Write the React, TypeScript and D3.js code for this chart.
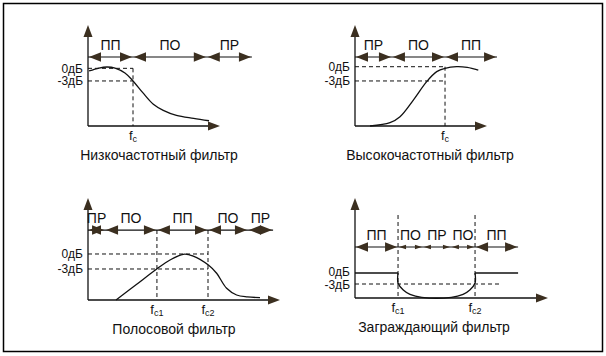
import React from 'react';
import * as d3 from 'd3';

// ---- data (normalised units: frequency 0..100 along x-axis, level 0..100 along y-axis) ----
const titles = ['Низкочастотный фильтр', 'Высокочастотный фильтр', 'Полосовой фильтр', 'Заграждающий фильтр'];
const levelLabels = ['0дБ', '-3дБ'];

const lowPassCurve: [number, number][] = [
  [0.8, 54.5], [8.3, 57.4], [14.4, 58.4], [20.5, 57.4], [28.0, 52.5], [34.1, 44.6],
  [41.5, 33.0], [49.5, 21.5], [57.0, 15.5], [67.0, 10.5], [80.0, 7.5], [91.7, 5.2],
];
const lowPassEdges = [0, 34.1, 90, 124.2];
const lowPassBands = ['ПП', 'ПО', 'ПР'];
const lowPassLevels = [57.1, 44.6];
const lowPassCutoffs = [34.1];
const lowPassCutoffLabels = ['c'];

const highPassCurve: [number, number][] = [
  [11.4, 0], [26.5, 3.3], [34.1, 9.2], [44.2, 25.7], [54.3, 43.9], [61.9, 53.8],
  [68.2, 57.1], [77.0, 58.7], [85.0, 58.0], [93.4, 55.4],
];
const highPassEdges = [0, 28, 68.2, 107.6];
const highPassBands = ['ПР', 'ПО', 'ПП'];
const highPassLevels = [58.7, 44.6];
const highPassCutoffs = [68.2];
const highPassCutoffLabels = ['c'];

const bandPassCurve: [number, number][] = [
  [14.6, 0], [25.2, 15.2], [35.8, 30.4], [42.7, 39.2], [49.6, 44.8], [54.8, 43.1],
  [62.7, 34.3], [67.0, 26.2], [72.2, 11.5], [77.4, 4.9], [83.0, 3.0], [89.6, 2.3],
];
const bandPassEdges = [0, 8.9, 35.9, 62.5, 83.3, 96.4];
const bandPassBands = ['ПР', 'ПО', 'ПП', 'ПО', 'ПР'];
const bandPassLevels = [45.1, 30.4];
const bandPassCutoffs = [35.9, 62.5];
const bandPassCutoffLabels = ['c1', 'c2'];

const bandStopNotch: [number, number][] = [
  [22.3, 25], [22.3, 15], [25.0, 8], [28.5, 3.7], [34.6, 0.7], [49.9, 0.7],
  [56.0, 3.7], [59.5, 8], [62.2, 15], [62.2, 25],
];
const bandStopPassLeft: [number, number][] = [[0, 25], [22.3, 25]];
const bandStopPassRight: [number, number][] = [[62.2, 25], [84.5, 25]];
const bandStopEdges = [0, 22.3, 35.2, 49.7, 62.2, 84.5];
const bandStopBands = ['ПП', 'ПО', 'ПР', 'ПО', 'ПП'];
const bandStopLevels = [25, 14];
const bandStopCutoffs = [22.3, 62.2];
const bandStopCutoffLabels = ['c1', 'c2'];

// ---- layout / style ----
const FONT = '"Liberation Sans", Arial, Helvetica, sans-serif';
const INK = '#111';
const HEAD = '#3b2f20';

type PanelCfg = {
  ox: number; oy: number; w: number; h: number;
  title: string; titleX: number;
  edges: number[]; bands: string[]; bandY: number; smallInner?: boolean;
  levels: number[]; cutoffs: number[]; cutoffLabels: string[];
  kind: 'lp' | 'hp' | 'bp' | 'bs';
};

const panels: PanelCfg[] = [
  { ox: 88, oy: 126, w: 132, h: 101, title: titles[0], titleX: 159, edges: lowPassEdges, bands: lowPassBands, bandY: 68.3,
    levels: lowPassLevels, cutoffs: lowPassCutoffs, cutoffLabels: lowPassCutoffLabels, kind: 'lp' },
  { ox: 355, oy: 126, w: 132, h: 101, title: titles[1], titleX: 430, edges: highPassEdges, bands: highPassBands, bandY: 68.3,
    levels: highPassLevels, cutoffs: highPassCutoffs, cutoffLabels: highPassCutoffLabels, kind: 'hp' },
  { ox: 88, oy: 300, w: 192, h: 102, title: titles[2], titleX: 174, edges: bandPassEdges, bands: bandPassBands, bandY: 68.6,
    levels: bandPassLevels, cutoffs: bandPassCutoffs, cutoffLabels: bandPassCutoffLabels, kind: 'bp' },
  { ox: 355, oy: 298, w: 193, h: 100, title: titles[3], titleX: 434, edges: bandStopEdges, bands: bandStopBands, bandY: 51,
    levels: bandStopLevels, cutoffs: bandStopCutoffs, cutoffLabels: bandStopCutoffLabels, kind: 'bs', smallInner: true },
];

function tri(x: number, y: number, dir: 'l' | 'r' | 'u', len: number, half: number) {
  if (dir === 'l') return `${x},${y} ${x + len},${y - half} ${x + len},${y + half}`;
  if (dir === 'r') return `${x},${y} ${x - len},${y - half} ${x - len},${y + half}`;
  return `${x},${y} ${x - half},${y + len} ${x + half},${y + len}`;
}

function Panel({ p }: { p: PanelCfg }) {
  const x = d3.scaleLinear().domain([0, 100]).range([p.ox, p.ox + p.w]);
  const y = d3.scaleLinear().domain([0, 100]).range([p.oy, p.oy - p.h]);
  const smooth = d3.line<[number, number]>().x(d => x(d[0])).y(d => y(d[1])).curve(d3.curveCatmullRom.alpha(0.5));
  const straight = d3.line<[number, number]>().x(d => x(d[0])).y(d => y(d[1]));
  const dash = '4,3';
  const by = y(p.bandY);
  const [l0, l3] = p.levels;
  const lastCut = p.cutoffs[p.cutoffs.length - 1];

  const dashed: JSX.Element[] = [];
  if (p.kind === 'lp' || p.kind === 'hp' || p.kind === 'bp') {
    dashed.push(<line key="h0" x1={x(0)} x2={x(lastCut)} y1={y(l0)} y2={y(l0)} />);
    dashed.push(<line key="h3" x1={x(0)} x2={x(lastCut)} y1={y(l3)} y2={y(l3)} />);
  }
  if (p.kind === 'lp' || p.kind === 'hp') {
    dashed.push(<line key="v" x1={x(p.cutoffs[0])} x2={x(p.cutoffs[0])} y1={y(l0)} y2={y(0)} />);
  }
  if (p.kind === 'bp') {
    p.cutoffs.forEach((c, i) => dashed.push(<line key={'v' + i} x1={x(c)} x2={x(c)} y1={by} y2={y(0)} />));
  }
  if (p.kind === 'bs') {
    p.cutoffs.forEach((c, i) => dashed.push(<line key={'v' + i} x1={x(c)} x2={x(c)} y1={y(83)} y2={y(0)} />));
    dashed.push(<line key="h3" x1={x(0)} x2={x(75)} y1={y(l3)} y2={y(l3)} />);
  }

  let curve: JSX.Element[] = [];
  if (p.kind === 'lp') curve = [<path key="c" d={smooth(lowPassCurve) || ''} />];
  if (p.kind === 'hp') curve = [<path key="c" d={smooth(highPassCurve) || ''} />];
  if (p.kind === 'bp') curve = [<path key="c" d={smooth(bandPassCurve) || ''} />];
  if (p.kind === 'bs') curve = [
    <path key="a" d={straight(bandStopPassLeft) || ''} />,
    <path key="b" d={smooth(bandStopNotch) || ''} />,
    <path key="c" d={straight(bandStopPassRight) || ''} />,
  ];

  // level label baselines, kept at least one text height apart
  const b1 = y(l3) + 4.5;
  const b0 = Math.min(y(l0) + 4.5, b1 - 12.5);
  const levelBase = [b0, b1];

  return (
    <g>
      {/* dashed guides */}
      <g stroke={INK} strokeWidth={1} strokeDasharray={dash} fill="none">{dashed}</g>
      {/* axes */}
      <g stroke={INK} strokeWidth={1.3}>
        <line x1={p.ox} x2={p.ox} y1={p.oy} y2={p.oy - p.h + 8} />
        <line x1={p.ox} x2={p.ox + p.w - 8} y1={p.oy} y2={p.oy} />
      </g>
      <polygon points={tri(p.ox, p.oy - p.h, 'u', 12, 4.5)} fill={HEAD} />
      <polygon points={tri(p.ox + p.w, p.oy, 'r', 12, 4.5)} fill={HEAD} />
      {/* response curve */}
      <g stroke={INK} strokeWidth={1.3} fill="none">{curve}</g>
      {/* band arrows */}
      <line x1={x(p.edges[0])} x2={x(p.edges[p.edges.length - 1])} y1={by} y2={by} stroke={INK} strokeWidth={1.2} />
      {p.bands.map((b, i) => {
        const a = x(p.edges[i]);
        const e = x(p.edges[i + 1]);
        const small = p.smallInner && i > 0 && i < p.bands.length - 1;
        const len = small ? 7 : 12;
        const half = small ? 2.3 : 4.8;
        return (
          <g key={i}>
            <polygon points={tri(a + 1, by, 'l', len, half)} fill={HEAD} />
            <polygon points={tri(e - 1, by, 'r', len, half)} fill={HEAD} />
            <text x={(a + e) / 2} y={by - 7} textAnchor="middle" fontSize={14} fill={INK} fontFamily={FONT}>{b}</text>
          </g>
        );
      })}
      {/* level labels */}
      {p.levels.map((l, i) => (
        <text key={i} x={p.ox - 5} y={levelBase[i]} textAnchor="end" fontSize={12} fill={INK} fontFamily={FONT}>{levelLabels[i]}</text>
      ))}
      {/* cutoff labels */}
      {p.cutoffs.map((c, i) => (
        <text key={i} x={x(c)} y={p.oy + 14} textAnchor="middle" fontSize={13} fill={INK} fontFamily={FONT}>
          f<tspan fontSize={9} dy={2}>{p.cutoffLabels[i]}</tspan>
        </text>
      ))}
      <text x={p.titleX} y={p.oy + 34} textAnchor="middle" fontSize={14} fill={INK} fontFamily={FONT}>{p.title}</text>
    </g>
  );
}

export default function App() {
  return (
    <svg width={606} height={356} style={{ position: 'absolute', left: 0, top: 0, background: '#fff' }}>
      <rect x={0} y={0} width={606} height={356} fill="#fff" />
      <rect x={3.5} y={3.5} width={599} height={348} fill="none" stroke="#000" strokeWidth={1.5} />
      {panels.map((p, i) => <Panel key={i} p={p} />)}
    </svg>
  );
}
